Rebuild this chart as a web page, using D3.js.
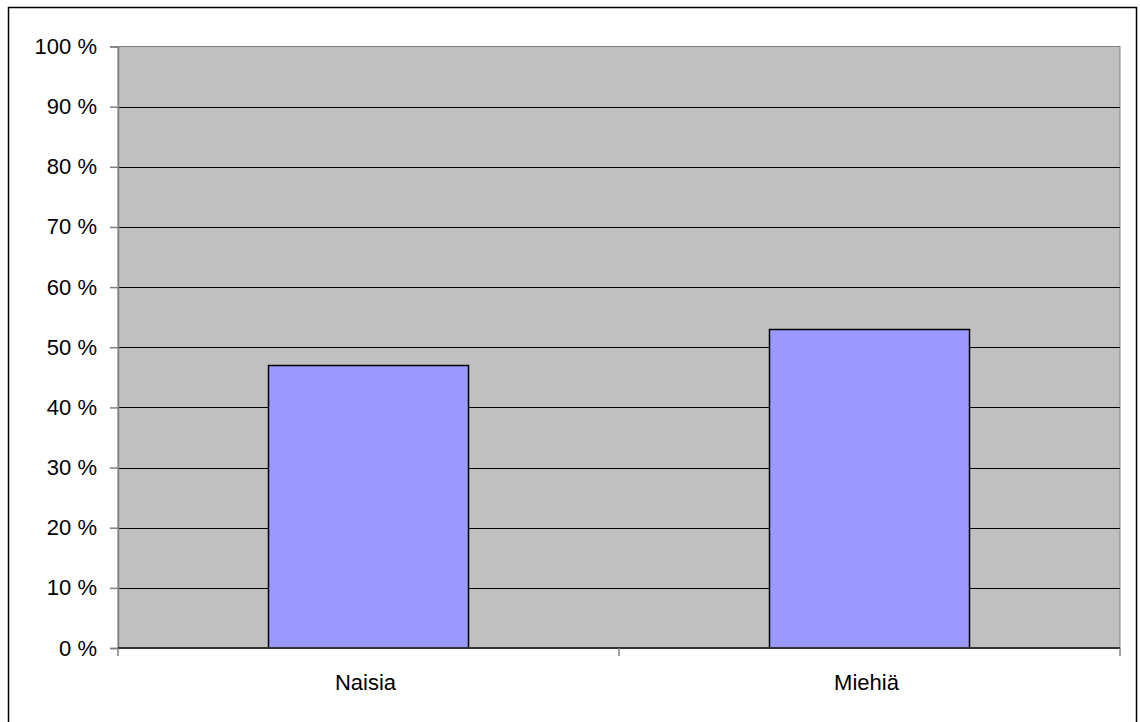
<!DOCTYPE html>
<html>
<head>
<meta charset="utf-8">
<script src="https://cdn.jsdelivr.net/npm/d3@7/dist/d3.min.js"></script>
<style>
  html, body { margin: 0; padding: 0; background: #fff; }
  svg { display: block; }
  text { font-family: "Liberation Sans", Arial, sans-serif; fill: #000; }
</style>
</head>
<body>
<svg id="chart" width="1140" height="722"></svg>
<script>
const categories = ["Naisia", "Miehiä"];
const values = [47, 53];
const yTicks = [0, 10, 20, 30, 40, 50, 60, 70, 80, 90, 100];

const svg = d3.select("#chart");
const W = 1140, H = 722;
const plot = { left: 118, right: 1120, top: 46.5, bottom: 648 };

// outer chart border
svg.append("rect")
  .attr("x", 8.5).attr("y", 7.5)
  .attr("width", 1128).attr("height", 730)
  .attr("fill", "#fff").attr("stroke", "#000").attr("stroke-width", 1.5);

const x = d3.scaleBand().domain(categories).range([plot.left, plot.right]).paddingInner(0.6).paddingOuter(0.3);
const xOuter = d3.scaleBand().domain(categories).range([plot.left, plot.right]);
const y = d3.scaleLinear().domain([0, 100]).range([plot.bottom, plot.top]);

// plot area background
svg.append("rect")
  .attr("x", plot.left).attr("y", plot.top)
  .attr("width", plot.right - plot.left).attr("height", plot.bottom - plot.top)
  .attr("fill", "#c0c0c0").attr("stroke", "#808080").attr("stroke-width", 1);

// gridlines
svg.append("g").selectAll("line")
  .data(yTicks.filter(d => d > 0 && d < 100))
  .join("line")
  .attr("x1", plot.left).attr("x2", plot.right)
  .attr("y1", d => Math.round(y(d)) + 0.5).attr("y2", d => Math.round(y(d)) + 0.5)
  .attr("stroke", "#000").attr("stroke-width", 1);

// bars
svg.append("g").selectAll("rect")
  .data(categories)
  .join("rect")
  .attr("x", d => Math.round(xOuter(d) + xOuter.bandwidth() * 0.3) + 0.5)
  .attr("width", Math.round(xOuter.bandwidth() * 0.4))
  .attr("y", (d, i) => Math.round(y(values[i])) + 0.5)
  .attr("height", (d, i) => plot.bottom - Math.round(y(values[i])) - 0.5)
  .attr("fill", "#9999ff").attr("stroke", "#000").attr("stroke-width", 1.5);

// y axis
const yAxis = d3.axisLeft(y).tickValues(yTicks).tickSize(8).tickPadding(13)
  .tickFormat(d => d + " %");
const gy = svg.append("g").attr("transform", `translate(${plot.left},0)`).call(yAxis);
gy.select(".domain").attr("stroke", "#808080").attr("stroke-width", 1.5);
gy.selectAll(".tick line").attr("stroke", "#808080").attr("stroke-width", 1.5);
gy.selectAll("text").attr("font-size", 22).attr("font-family", "Liberation Sans, Arial, sans-serif").attr("fill", "#000");

// x axis
const gx = svg.append("g").attr("transform", `translate(0,${plot.bottom})`);
gx.append("line").attr("x1", plot.left).attr("x2", plot.right).attr("y1", 0).attr("y2", 0)
  .attr("stroke", "#333").attr("stroke-width", 2);
const xTickPos = [plot.left, ...categories.slice(1).map(c => xOuter(c)), plot.right];
gx.selectAll("line.xt").data(xTickPos).join("line").attr("class", "xt")
  .attr("x1", d => d).attr("x2", d => d).attr("y1", 0).attr("y2", 8)
  .attr("stroke", "#808080").attr("stroke-width", 1.5);
gx.selectAll("text").data(categories).join("text")
  .attr("x", d => xOuter(d) + xOuter.bandwidth() / 2 - 3)
  .attr("y", 42)
  .attr("text-anchor", "middle")
  .attr("font-size", 22)
  .text(d => d);
</script>
</body>
</html>
